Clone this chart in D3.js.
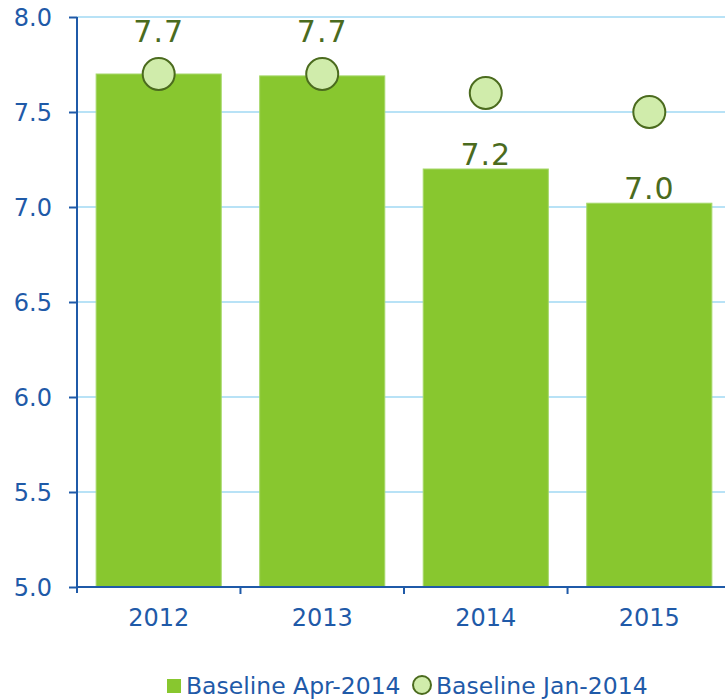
<!DOCTYPE html>
<html>
<head>
<meta charset="utf-8">
<script src="https://cdn.jsdelivr.net/npm/d3@7"></script>
<style>
  body { margin: 0; background: #fff; }
  svg { display: block; font-family: "DejaVu Sans", Verdana, sans-serif; }
</style>
</head>
<body>
<svg id="chart" width="725" height="699"></svg>
<script>
// data
const years = ["2012", "2013", "2014", "2015"];
const aprValues = [7.70, 7.69, 7.20, 7.02];   // bars
const janValues = [7.70, 7.70, 7.60, 7.50];   // circles
const barLabels = ["7.7", "7.7", "7.2", "7.0"];
const yTicks = [5.0, 5.5, 6.0, 6.5, 7.0, 7.5, 8.0];

const blue = "#1f5aa8";
const barGreen = "#88c72f";
const darkGreen = "#4b6b1e";

const svg = d3.select("#chart");

const x = d3.scaleBand().domain(years).range([77, 731]).paddingInner(0.235).paddingOuter(0.117);
const y = d3.scaleLinear().domain([5, 8]).range([587, 17]);

// gridlines
svg.append("g")
  .selectAll("line")
  .data(yTicks.slice(1))
  .enter()
  .append("line")
  .attr("x1", 77)
  .attr("x2", 725)
  .attr("y1", d => y(d))
  .attr("y2", d => y(d))
  .attr("stroke", "#b8e2f6")
  .attr("stroke-width", 2);

// bars
svg.append("g")
  .selectAll("rect")
  .data(years)
  .enter()
  .append("rect")
  .attr("x", d => x(d))
  .attr("width", x.bandwidth())
  .attr("y", (d, i) => y(aprValues[i]))
  .attr("height", (d, i) => y(5) - y(aprValues[i]))
  .attr("fill", barGreen)
  .attr("stroke", "#a6d86a")
  .attr("stroke-width", 1);

// circles
svg.append("g")
  .selectAll("circle")
  .data(years)
  .enter()
  .append("circle")
  .attr("cx", d => x(d) + x.bandwidth() / 2)
  .attr("cy", (d, i) => y(janValues[i]))
  .attr("r", 16)
  .attr("fill", "#d0ecab")
  .attr("stroke", darkGreen)
  .attr("stroke-width", 2);

// value labels, pushed above the circle when it sits on the bar
svg.append("g")
  .selectAll("text")
  .data(years)
  .enter()
  .append("text")
  .attr("x", d => x(d) + x.bandwidth() / 2)
  .attr("y", (d, i) => {
    let top = y(aprValues[i]) - 4;
    if (Math.abs(janValues[i] - aprValues[i]) < 0.15) top = y(janValues[i]) - 16 - 16;
    return top;
  })
  .attr("text-anchor", "middle")
  .attr("fill", darkGreen)
  .attr("font-size", 30)
  .attr("letter-spacing", 1)
  .text((d, i) => barLabels[i]);

// y axis
const yAxis = svg.append("g")
  .attr("transform", "translate(77,0)")
  .call(d3.axisLeft(y).tickValues(yTicks).tickFormat(d3.format(".1f")).tickSize(8).tickPadding(17));
yAxis.attr("font-size", 24).attr("font-family", null);
yAxis.select(".domain").attr("stroke", blue).attr("stroke-width", 2).attr("d", "M0,17V593");
yAxis.selectAll(".tick line").attr("stroke", blue).attr("stroke-width", 2);
yAxis.selectAll(".tick text").attr("fill", blue).attr("dy", "0.36em");

// x axis
const xAxis = svg.append("g")
  .attr("transform", "translate(0,587)")
  .call(d3.axisBottom(x).tickSize(0).tickPadding(22));
xAxis.attr("font-size", 24).attr("font-family", null);
xAxis.select(".domain").attr("stroke", blue).attr("stroke-width", 2).attr("d", "M77,0H725");
xAxis.selectAll(".tick text").attr("fill", blue).attr("dy", "0.71em");
xAxis.selectAll(".sep")
  .data(years.slice(1))
  .enter()
  .append("line")
  .attr("class", "sep")
  .attr("x1", d => x(d) - x.step() * x.paddingInner() / 2)
  .attr("x2", d => x(d) - x.step() * x.paddingInner() / 2)
  .attr("y1", 0)
  .attr("y2", 7)
  .attr("stroke", blue)
  .attr("stroke-width", 2);

// legend
const legend = svg.append("g").attr("font-size", 23.5).attr("fill", blue);
legend.append("rect").attr("x", 167).attr("y", 679).attr("width", 14).attr("height", 14).attr("fill", barGreen);
legend.append("text").attr("x", 186).attr("y", 694).text("Baseline Apr-2014");
legend.append("circle").attr("cx", 422).attr("cy", 685).attr("r", 9)
  .attr("fill", "#d0ecab").attr("stroke", darkGreen).attr("stroke-width", 2);
legend.append("text").attr("x", 436).attr("y", 694).text("Baseline Jan-2014");
</script>
</body>
</html>
